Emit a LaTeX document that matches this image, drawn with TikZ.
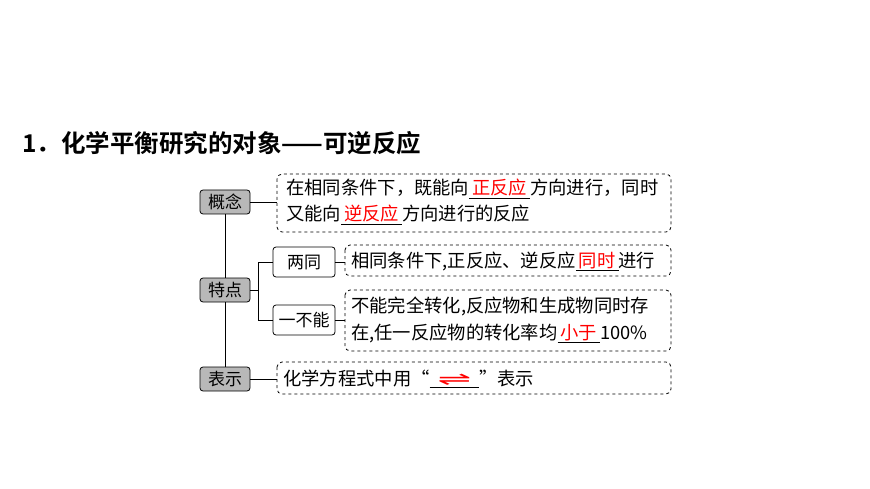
\documentclass[tikz,border=0pt]{standalone}
\usepackage{fontspec}
\setmainfont{Noto Sans CJK SC}[BoldFont={* Bold}]
\newfontfamily\djv{DejaVu Sans}
\newcommand{\rl}[1]{\underline{\,\textcolor{red}{#1}\,}}
\begin{document}
\begin{tikzpicture}[x=1pt,y=1pt,
  gbox/.style={draw,rounded corners=3pt,fill=black!28,line width=0.8pt,minimum width=50pt,minimum height=24pt,inner sep=0pt,font=\fontsize{17}{20}\selectfont},
  wbox/.style={draw,rounded corners=3pt,fill=white,line width=0.8pt,minimum width=62pt,minimum height=30pt,inner sep=0pt,font=\fontsize{17}{20}\selectfont},
  dbox/.style={draw,dashed,rounded corners=5pt,line width=0.8pt},
  txt/.style={anchor=west,inner sep=0pt,font=\fontsize{18.3}{20}\selectfont},
  ln/.style={line width=0.8pt}]
\useasboundingbox (0,0) rectangle (870,-489);
\node[anchor=west,inner sep=0pt,font=\fontsize{24.5}{28}\selectfont\bfseries] (title) at (22,-143) {1．化学平衡研究的对象——可逆反应};
\node[gbox] (gn) at (225,-202) {概念};
\node[gbox] (td) at (225,-290) {特点};
\node[gbox] (bs) at (225,-379) {表示};
\node[wbox] (lt) at (304,-262) {两同};
\node[wbox] (yb) at (304,-320) {一不能};
\draw[dbox] (277,-174) rectangle (671,-232);
\draw[dbox] (345,-245) rectangle (671,-276);
\draw[dbox] (345,-290) rectangle (671,-351);
\draw[dbox] (277,-362) rectangle (671,-394);
\coordinate (d1w) at (277,-202);
\coordinate (d2w) at (345,-262);
\coordinate (d3w) at (345,-320);
\coordinate (d4w) at (277,-379);
\coordinate (br) at (258,-290);
\draw[ln] (gn.south) -- (td.north);
\draw[ln] (td.south) -- (bs.north);
\draw[ln] (gn.east) -- (d1w);
\draw[ln] (bs.east) -- (d4w);
\draw[ln] (td.east) -- (br);
\draw[ln] (br) |- (lt.west);
\draw[ln] (br) |- (yb.west);
\draw[ln] (lt.east) -- (d2w);
\draw[ln] (yb.east) -- (d3w);
\node[txt] (t1) at (286,-189) {在相同条件下，既能向\rl{正反应}方向进行，同时};
\node[txt] (t2) at (286,-215) {又能向\rl{逆反应}方向进行的反应};
\node[txt] (t3) at (351,-261) {相同条件下,正反应、逆反应\rl{同时}进行};
\node[txt] (t4) at (351,-306) {不能完全转化,反应物和生成物同时存};
\node[txt] (t5) at (351,-333) {在,任一反应物的转化率均\rl{小于}100\%};
\node[txt] (t6) at (283,-379) {化学方程式中用“\underline{\hspace{8pt}\textcolor{red}{\djv\scalebox{2.2}[1]{⇌}}\hspace{8pt}}”表示};
\end{tikzpicture}
\end{document}
